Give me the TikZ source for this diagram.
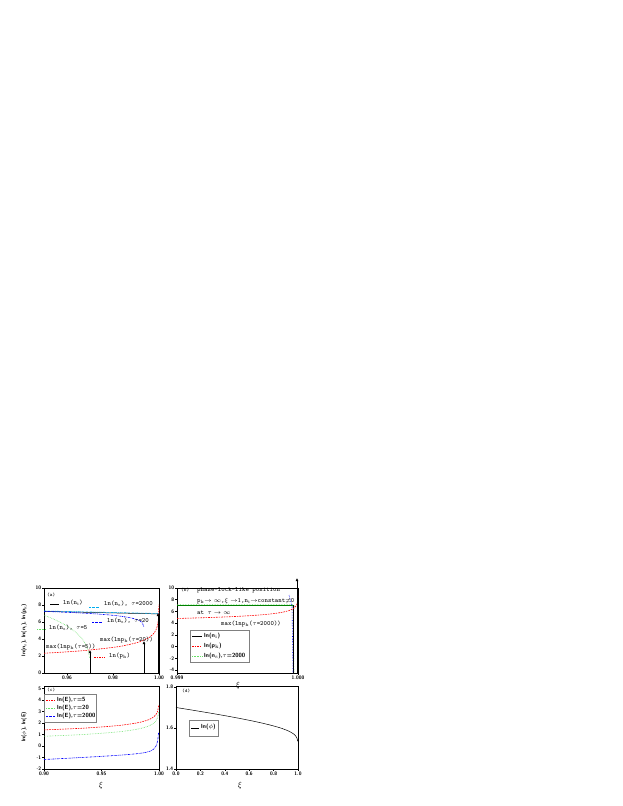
\documentclass[tikz,border=0pt]{standalone}
\usepackage{fontspec}
\usetikzlibrary{arrows.meta}
\begin{document}
\begin{tikzpicture}[x=1pt,y=-1pt,
  ax/.style={line width=0.5pt},
  tk/.style={font=\sffamily\bfseries\fontsize{5}{6}\selectfont,inner sep=0.6pt},
  ann/.style={font=\ttfamily\fontsize{6.5}{7.5}\selectfont,inner sep=0pt,anchor=west},
  lg/.style={font=\sffamily\bfseries\fontsize{6}{7}\selectfont,inner sep=0pt,anchor=west},
  arr/.style={line width=1pt,-{Latex[length=3pt,width=3pt]}},
  cR/.style={red,dash pattern=on 1.6pt off 1pt,line width=0.6pt},
  cG/.style={green!80!black!60,densely dotted,line width=0.6pt},
  cB/.style={blue,dash pattern=on 2pt off 0.8pt on 0.6pt off 0.8pt,line width=0.6pt},
  cC/.style={cyan,dash pattern=on 2pt off 0.8pt on 0.6pt off 0.8pt,line width=0.6pt},
  cK/.style={black,line width=0.5pt}]
\useasboundingbox (0,0) rectangle (623,806);
% ================= (a) =================
\draw[ax] (44,588) rectangle (159,673);
\foreach \v in {0,2,4,6,8,10}{\draw[ax] (44,{673-8.5*\v}) -- ++(-2,0) node[tk,left]{\v};}
\foreach \v/\l in {0.96/0.96,0.98/0.98,1.00/1.00}{\draw[ax] ({44+(\v-0.95)*2300},673) -- ++(0,2) node[tk,below]{\l};}
\node[rotate=90,font=\sffamily\bfseries\fontsize{5.5}{6.5}\selectfont] (yla) at (24,630) {ln(n$_\mathrm{s}$), ln(n$_\mathrm{i}$), ln(p$_\mathrm{k}$)};
\begin{scope}
\clip (44,580) rectangle (159,673);
\draw[cK] plot[domain=0.95:1,samples=2] ({44+(\x-0.95)*2300},{673-8.5*(7.25-0.3*(\x-0.95)/0.05)});
\draw[cC] plot[domain=0.95:1,samples=2] ({44+(\x-0.95)*2300},{673-8.5*(7.3-0.3*(\x-0.95)/0.05)});
\draw[cB] plot[domain=0.95:0.9935,samples=80] ({44+(\x-0.95)*2300},{673-8.5*(3.7+3.55*((0.9935-\x)/0.0435)^0.12)});
\draw[cG] plot[domain=0.95:0.970,samples=80] ({44+(\x-0.95)*2300},{673-8.5*(6.8*((0.970-\x)/0.02)^0.3)});
\draw[cR] plot[domain=0.95:0.99999,samples=150] ({44+(\x-0.95)*2300},{673-8.5*(0.05-0.76*ln(1-\x))});
\end{scope}
\coordinate (a1b) at (90,673); \coordinate (a1t) at (90,650);
\coordinate (a2b) at (144,673); \coordinate (a2t) at (144,641);
\coordinate (a3b) at (158,673); \coordinate (a3t) at (158,613);
\draw[arr] (a1b) -- (a1t);
\draw[arr] (a2b) -- (a2t);
\draw[arr] (a3b) -- (a3t);
\node[ann] (la) at (47,595) {\fontsize{5}{6}\selectfont(a)};
\draw[cK] (50,604) -- (59,604);
\node[ann] (l1) at (63,603) {ln(n$_\mathrm{i}$)};
\draw[cC] (89,607) -- (100,607);
\node[ann] (l2) at (104,604) {ln(n$_\mathrm{s}$), $\tau$=2000};
\draw[cB] (92,622) -- (103,622);
\node[ann] (l3) at (107,621) {ln(n$_\mathrm{s}$), $\tau$=20};
\draw[cG] (37,629) -- (46,629);
\node[ann] (l4) at (49,628) {ln(n$_\mathrm{s}$), $\tau$=5};
\node[ann] (l5) at (46,647) {max(lnp$_\mathrm{k}$($\tau$=5))};
\node[ann] (l6) at (100,640) {max(lnp$_\mathrm{k}$($\tau$=20))};
\draw[cR] (94,657) -- (105,657);
\node[ann] (l7) at (109,656) {ln(p$_\mathrm{k}$)};
% ================= (b) =================
\draw[ax] (177,588) rectangle (298,673);
\foreach \v in {-4,-2,0,2,4,6,8,10}{\draw[ax] (177,{646.6-5.86*\v}) -- ++(-2,0) node[tk,left]{\v};}
\draw[ax] (177,673) -- ++(0,2) node[tk,below]{0.999};
\draw[ax] (298,673) -- ++(0,2) node[tk,below]{1.000};
\node[font=\fontsize{8}{9}\selectfont] (xib) at (238,685) {$\xi$};
\begin{scope}
\clip (177,575) rectangle (298,673);
\draw[green!50!black,line width=0.6pt] (177,605.6) -- (294,605.6);
\draw[cG] (177,604.6) -- (293,604.6) -- (294,673);
\draw[cK] (293.5,606) -- (293.5,673);
\draw[blue,densely dotted,line width=0.6pt] (289,595) -- (292,606) -- (293,673);
\draw[cR] plot[domain=0:999.5,samples=150] ({177+\x*0.121},{646.6-5.86*(1.21-0.52*(ln(1000-\x)-13.8155))});
\end{scope}
\coordinate (bb) at (297,673); \coordinate (bt) at (297,578);
\draw[arr] (bb) -- (bt);
\fill (293.5,606) circle (1pt);
\node[ann] (lb) at (181,590) {\fontsize{5}{6}\selectfont(b)};
\node[ann] (b1) at (197,590) {phase-lock-like position};
\node[ann] (b2) at (197,601) {p$_\mathrm{k}$$\to\infty$,$\xi\to$1,n$_\mathrm{i}$$\to$constant$\neq$0};
\node[ann] (b3) at (197,613) {at $\tau\to\infty$};
\node[ann] (b4) at (221,624) {max(lnp$_\mathrm{k}$($\tau$=2000))};
\draw[ax,gray] (190,630) rectangle (249,662);
\draw[cK] (192,636) -- (202,636); \node[lg] (bl1) at (204,636) {ln(n$_\mathrm{i}$)};
\draw[cR] (192,646) -- (202,646); \node[lg] (bl2) at (204,646) {ln(p$_\mathrm{k}$)};
\draw[cG] (192,656) -- (202,656); \node[lg] (bl3) at (204,656) {ln(n$_\mathrm{s}$),$\tau$=2000};
% ================= (c) =================
\draw[ax] (44,686) rectangle (159,769);
\foreach \v in {-2,-1,0,1,2,3,4,5}{\draw[ax] (44,{746-11.5*\v}) -- ++(-2,0) node[tk,left]{\v};}
\foreach \v/\l in {0.90/0.90,0.95/0.95,1.00/1.00}{\draw[ax] ({44+(\v-0.9)*1150},769) -- ++(0,2) node[tk,below]{\l};}
\node[rotate=90,font=\sffamily\bfseries\fontsize{5.5}{6.5}\selectfont] (ylc) at (24,727) {ln($\phi$), ln(E)};
\node[font=\fontsize{8}{9}\selectfont] (xic) at (101,785) {$\xi$};
\draw[cR] plot[domain=0.9:0.99998,samples=150] ({44+(\x-0.9)*1150},{746-11.5*(0.55-0.37*ln(1-\x))});
\draw[cG] plot[domain=0.9:0.99993,samples=150] ({44+(\x-0.9)*1150},{746-11.5*(0.0-0.37*ln(1-\x))});
\draw[cB] plot[domain=0.9:1,samples=200] ({44+(\x-0.9)*1150},{746-11.5*(-1.2+0.5*(\x-0.9)/0.1+0.0026/(1-\x+0.001))});
\node[ann] (lc) at (47,690) {\fontsize{5}{6}\selectfont(c)};
\draw[ax,gray] (44,694) rectangle (96,722);
\draw[cR] (46,700) -- (55,700); \node[lg] (c1) at (57,700) {ln(E),$\tau$=5};
\draw[cG] (46,708) -- (55,708); \node[lg] (c2) at (57,708) {ln(E),$\tau$=20};
\draw[cB] (46,716) -- (55,716); \node[lg] (c3) at (57,716) {ln(E),$\tau$=2000};
% ================= (d) =================
\draw[ax] (176,686) rectangle (298,769);
\foreach \v in {1.4,1.6,1.8}{\draw[ax] (176,{769-(\v-1.4)*205}) -- ++(-2,0) node[tk,left]{\v};}
\foreach \v in {0.0,0.2,0.4,0.6,0.8,1.0}{\draw[ax] ({176+\v*122},769) -- ++(0,2) node[tk,below]{\v};}
\node[font=\fontsize{8}{9}\selectfont] (xid) at (240,785) {$\xi$};
\draw[cK] plot[domain=0:0.99999,samples=150] ({176+\x*122},{769-205*(0.30-0.07*\x-0.15*(1-(1-\x)^0.16))});
\node[ann] (ld) at (182,691) {\fontsize{5}{6}\selectfont(d)};
\draw[ax,gray] (189,720) rectangle (218,736);
\draw[cK] (191,728) -- (199,728); \node[lg] (d1) at (201,727) {ln($\phi$)};
\end{tikzpicture}
\end{document}
